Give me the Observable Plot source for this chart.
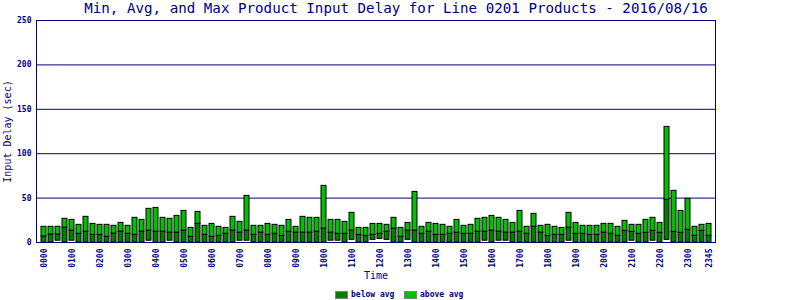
<!DOCTYPE html>
<html><head><meta charset="utf-8">
<script src="https://cdn.jsdelivr.net/npm/d3@7"></script>
<script src="https://cdn.jsdelivr.net/npm/@observablehq/plot@0.6"></script>
<style>
body{margin:0;background:#fff;}
#wrap{position:relative;width:800px;height:300px;overflow:hidden;font-family:"DejaVu Sans Mono",monospace;}
#title{position:absolute;left:0;top:0;width:792px;text-align:center;font-size:14.2px;color:#000080;line-height:16px;white-space:nowrap;}
.lg{position:absolute;font-size:8px;font-weight:bold;color:#000080;line-height:8px;white-space:nowrap;}
.sw{position:absolute;width:11px;height:6px;border:1px solid #808080;}
#chart{position:absolute;left:0;top:0;}
</style></head>
<body>
<div id="wrap">
  <div id="chart"></div>
  <div id="title">Min, Avg, and Max Product Input Delay for Line 0201 Products - 2016/08/16</div>
  <div class="sw" style="left:335px;top:291px;background:#008000"></div>
  <div class="lg" style="left:351px;top:291px">below avg</div>
  <div class="sw" style="left:404px;top:291px;background:#00c000"></div>
  <div class="lg" style="left:420px;top:291px">above avg</div>
</div>
<script>
const times = ["0000","0015","0030","0045","0100","0115","0130","0145","0200","0215","0230","0245",
"0300","0315","0330","0345","0400","0415","0430","0445","0500","0515","0530","0545",
"0600","0615","0630","0645","0700","0715","0730","0745","0800","0815","0830","0845",
"0900","0915","0930","0945","1000","1015","1030","1045","1100","1115","1130","1145",
"1200","1215","1230","1245","1300","1315","1330","1345","1400","1415","1430","1445",
"1500","1515","1530","1545","1600","1615","1630","1645","1700","1715","1730","1745",
"1800","1815","1830","1845","1900","1915","1930","1945","2000","2015","2030","2045",
"2100","2115","2130","2145","2200","2215","2230","2245","2300","2315","2330","2345"];

const hourTicks = ["0000","0100","0200","0300","0400","0500","0600","0700","0800","0900","1000","1100",
"1200","1300","1400","1500","1600","1700","1800","1900","2000","2100","2200","2300","2345"];

const yTicks = [0, 50, 100, 150, 200, 250];

const maxDelay = [17.7,17.7,17.7,26.7,25.5,19.9,28.9,21.0,19.9,19.9,18.8,22.1,18.8,27.8,25.5,37.9,
39.0,27.8,26.7,30.0,35.6,16.5,34.5,18.8,21.0,17.7,16.5,28.9,23.3,52.5,18.8,18.8,
21.0,19.9,18.8,25.5,17.7,28.9,27.8,27.8,63.8,25.5,25.5,23.3,33.4,16.5,16.5,21.0,
21.0,19.9,27.8,16.5,22.1,57.0,17.7,22.1,21.0,19.9,17.7,25.5,18.8,19.9,26.7,27.8,
30.0,27.8,25.5,22.1,35.6,17.7,32.3,18.8,19.9,17.7,16.5,33.4,22.1,18.8,18.8,18.8,
21.0,21.0,17.7,24.4,19.9,19.9,25.5,27.8,22.1,130.2,58.2,35.6,49.2,17.7,19.9,21.0];

const avgDelay = [6.8,9.0,9.0,16.7,13.4,9.8,12.2,8.6,8.6,6.4,10.1,12.2,9.8,8.6,12.2,13.4,
12.2,12.2,11.1,11.1,13.4,6.4,21.0,8.6,6.4,7.5,9.8,13.4,11.1,13.4,8.6,11.1,
8.6,9.8,7.5,12.2,11.1,11.1,11.1,12.2,15.6,11.1,9.8,9.8,13.4,8.6,7.5,8.6,
9.8,12.2,15.6,6.4,13.4,13.4,9.8,12.2,8.6,8.6,9.8,11.1,9.8,9.8,12.2,12.2,
13.4,12.2,11.1,11.1,12.2,9.8,17.7,11.1,7.5,8.6,8.6,16.7,9.8,9.8,8.6,8.6,
11.1,9.8,7.5,13.1,12.0,9.8,10.9,13.1,10.9,48.1,12.0,10.9,14.3,7.5,13.1,7.5];

const minDelay = [0,0,2,0,2,0,0,0,0,0,0,0,0,0,0,2,
0,0,2,0,0,0,0,0,0,0,0,0,2,2,0,0,
0,0,0,0,0,0,0,0,0,2,2,0,3,0,0,3,
4,3,0,0,3,0,0,0,0,0,0,0,0,0,0,2,
0,2,2,0,0,0,0,0,0,0,0,2,0,0,0,0,
0,0,0,0,2,0,0,2,0,3,0,0,0,0,0,0];

const data = times.map((t, i) => ({t, min: minDelay[i], avg: avgDelay[i], max: maxDelay[i]}));
const navy = "#000080";

const plot = Plot.plot({
  width: 800, height: 300,
  marginTop: 20, marginBottom: 58, marginLeft: 36, marginRight: 85,
  style: {fontFamily: "DejaVu Sans Mono", fontSize: "8px", color: navy, background: "transparent"},
  x: {type: "band", domain: times, paddingInner: 0.3, paddingOuter: 0.65, align: 0.6, label: null},
  y: {domain: [0, 250], label: null},
  marks: [
    Plot.gridY(yTicks.filter(v => v > 0), {stroke: navy, strokeOpacity: 1, strokeWidth: 1}),
    Plot.barY(data, {x: "t", y1: "min", y2: "avg", fill: "#008000", stroke: "black", strokeWidth: 1}),
    Plot.barY(data, {x: "t", y1: "avg", y2: "max", fill: "#00c000", stroke: "black", strokeWidth: 1}),
    Plot.frame({stroke: navy, strokeWidth: 1}),
    Plot.axisY({ticks: yTicks, tickSize: 0, tickPadding: 5, fontWeight: "bold", fill: navy, label: null}),
    Plot.axisX({ticks: hourTicks, tickSize: 0, tickRotate: -90, tickPadding: 6, fontWeight: "bold", fill: navy, label: null}),
    Plot.text(["Input Delay (sec)"], {text: d => d, frameAnchor: "left", textAnchor: "middle", rotate: -90, dx: -28.5, fontSize: 10, fill: navy}),
    Plot.text(["Time"], {text: d => d, frameAnchor: "bottom", textAnchor: "middle", dy: 36.5, fontSize: 10, fill: navy})
  ]
});
document.getElementById("chart").appendChild(plot);
</script>
</body></html>
